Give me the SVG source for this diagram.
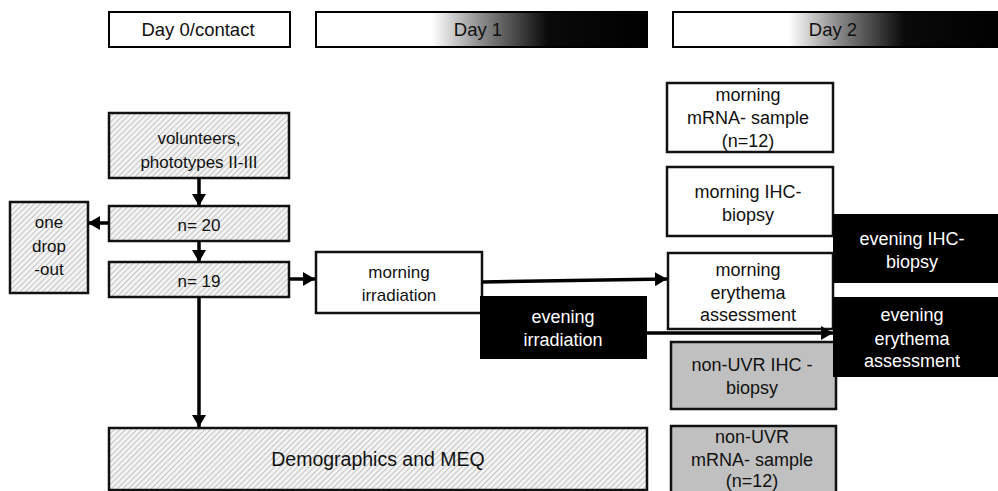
<svg xmlns="http://www.w3.org/2000/svg" width="998" height="491" viewBox="0 0 998 491">
<defs>
<pattern id="hatch" patternUnits="userSpaceOnUse" width="4" height="4" patternTransform="rotate(45)">
<rect width="4" height="4" fill="#f3f3f3"/>
<line x1="0.5" y1="0" x2="0.5" y2="4" stroke="#c4c4c4" stroke-width="1"/>
</pattern>
<linearGradient id="dayGrad" x1="0" y1="0" x2="1" y2="0">
<stop offset="0" stop-color="#ffffff"/>
<stop offset="0.35" stop-color="#ffffff"/>
<stop offset="0.5" stop-color="#8a8a8a"/>
<stop offset="0.7" stop-color="#0a0a0a"/>
<stop offset="1" stop-color="#000000"/>
</linearGradient>
<marker id="arr" viewBox="0 0 12 14" refX="12" refY="7" markerWidth="12" markerHeight="14" markerUnits="userSpaceOnUse" orient="auto">
<path d="M0,0 L12,7 L0,14 z" fill="#000"/>
</marker>
</defs>
<style>
text{font-family:"Liberation Sans",Arial,sans-serif;font-size:17px;fill:#111;text-anchor:middle}
.r{font-size:18px}
.h{font-size:18.5px}
.w{fill:#fff}
.hdr{stroke:#000;stroke-width:2}
.hat{fill:url(#hatch);stroke:#111;stroke-width:2.5}
.wht{fill:#fff;stroke:#111;stroke-width:2.5}
.gry{fill:#c0c0c0;stroke:#111;stroke-width:2.5}
.blk{fill:#000}
.con line{stroke:#000;stroke-width:3.5;fill:none}
</style>
<rect width="998" height="491" fill="#fff"/>

<g id="day0"><rect class="hdr" x="109" y="12" width="181" height="35" fill="#fff"/><text class="h" x="198" y="36">Day 0/contact</text></g>
<g id="day1"><rect class="hdr" x="316" y="12" width="331" height="35" fill="url(#dayGrad)"/><text class="h" x="478" y="36">Day 1</text></g>
<g id="day2"><rect class="hdr" x="673" y="12" width="330" height="35" fill="url(#dayGrad)"/><text class="h" x="833" y="36">Day 2</text></g>

<g id="volunteers"><rect class="hat" x="109" y="113" width="180" height="65"/><text x="199" y="144">volunteers,</text><text x="199" y="168">phototypes II-III</text></g>
<g id="n20"><rect class="hat" x="109" y="206" width="180" height="35"/><text x="199" y="231">n= 20</text></g>
<g id="n19"><rect class="hat" x="109" y="262" width="180" height="35"/><text x="199" y="287">n= 19</text></g>
<g id="dropout"><rect class="hat" x="10" y="202" width="78" height="91"/><text x="49" y="228">one</text><text x="49" y="252">drop</text><text x="49" y="275">-out</text></g>
<g id="morningIrr"><rect class="wht" x="316" y="252" width="166" height="61"/><text x="399" y="278">morning</text><text x="399" y="301">irradiation</text></g>
<g id="demographics"><rect class="hat" x="109" y="428" width="538" height="62"/><text x="378" y="466" style="font-size:19.5px">Demographics  and MEQ</text></g>

<g id="morningMRNA"><rect class="wht" x="667" y="83" width="166" height="69"/><text class="r" x="748" y="101">morning</text><text class="r" x="748" y="124">mRNA- sample</text><text class="r" x="748" y="147">(n=12)</text></g>
<g id="morningIHC"><rect class="wht" x="667" y="167" width="166" height="69"/><text class="r" x="748" y="198">morning IHC-</text><text class="r" x="748" y="221">biopsy</text></g>
<g id="morningEry"><rect class="wht" x="668" y="253" width="165" height="76"/><text class="r" x="748" y="276">morning</text><text class="r" x="748" y="299">erythema</text><text class="r" x="748" y="321">assessment</text></g>
<g id="nonUVRIHC"><rect class="gry" x="671" y="342" width="165" height="67"/><text class="r" x="752" y="371">non-UVR  IHC -</text><text class="r" x="752" y="394">biopsy</text></g>
<g id="nonUVRMRNA"><rect class="gry" x="671" y="426" width="165" height="70"/><text class="r" x="752" y="443">non-UVR</text><text class="r" x="752" y="466">mRNA- sample</text><text class="r" x="752" y="487">(n=12)</text></g>

<g id="eveningIrr"><rect class="blk" x="480" y="296" width="167" height="63"/><text class="r w" x="563" y="323">evening</text><text class="r w" x="563" y="346">irradiation</text></g>
<g id="eveningIHC"><rect class="blk" x="833" y="214" width="165" height="69"/><text class="r w" x="912" y="245">evening  IHC-</text><text class="r w" x="912" y="268">biopsy</text></g>
<g id="eveningEry"><rect class="blk" x="833" y="297" width="165" height="80"/><text class="r w" x="912" y="321">evening</text><text class="r w" x="912" y="345">erythema</text><text class="r w" x="912" y="367">assessment</text></g>

<g id="connectors" class="con">
<line x1="199" y1="178" x2="199" y2="206" marker-end="url(#arr)"/>
<line x1="109" y1="223" x2="88" y2="223" marker-end="url(#arr)"/>
<line x1="199" y1="241" x2="199" y2="262" marker-end="url(#arr)"/>
<line x1="289" y1="279" x2="315" y2="279" marker-end="url(#arr)"/>
<line x1="482" y1="282" x2="667" y2="279" marker-end="url(#arr)"/>
<line x1="647" y1="333" x2="833" y2="333" marker-end="url(#arr)"/>
<line x1="199" y1="297" x2="199" y2="427" marker-end="url(#arr)"/>
</g>
</svg>
